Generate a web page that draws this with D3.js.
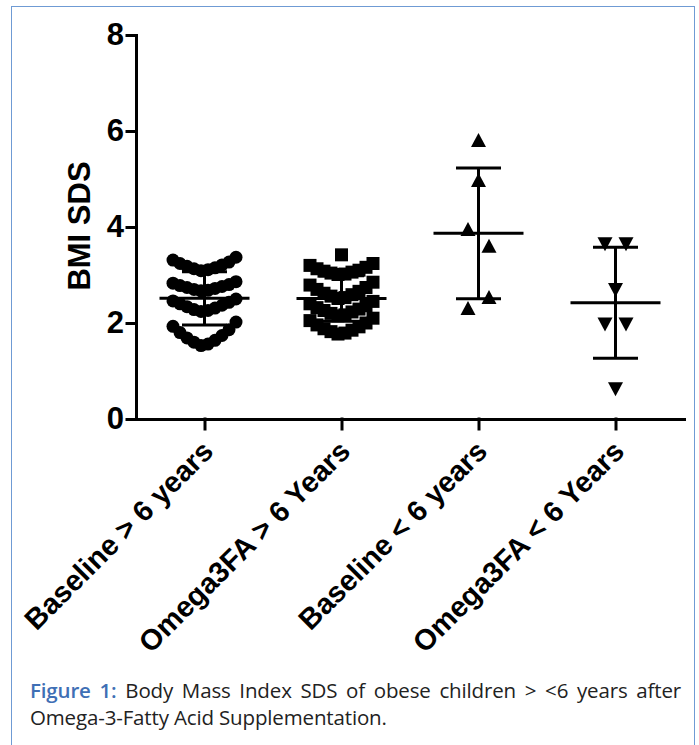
<!DOCTYPE html>
<html>
<head>
<meta charset="utf-8">
<script src="https://cdn.jsdelivr.net/npm/d3@7"></script>
<style>
body { margin: 0; background: #fff; }
#frame { position: absolute; left: 11px; top: 6px; width: 684px; height: 760px; border: 1px solid #6f9bd4; box-sizing: border-box; }
#chart { position: absolute; left: 0; top: 0; }
.cap { position: absolute; left: 30px; width: 651px; font-family: "Open Sans", sans-serif; font-size: 20.5px; line-height: 27px; color: #222; white-space: nowrap; letter-spacing: -0.15px; }
.cap.l1 { top: 677px; text-align: justify; text-align-last: justify; white-space: normal; }
.cap.l2 { top: 704px; }
.cap b { color: #3f6fb5; font-weight: 600; }
</style>
</head>
<body>
<div id="frame"></div>
<svg id="chart" width="699" height="745"></svg>
<div class="cap l1"><b>Figure 1:</b> Body Mass Index SDS of obese children &gt; &lt;6 years after</div>
<div class="cap l2">Omega-3-Fatty Acid Supplementation.</div>
<script>
// data
const categories = ["Baseline > 6 years", "Omega3FA > 6 Years", "Baseline < 6 years", "Omega3FA < 6 Years"];
const baselineOver6 = [
	1.53, 1.56, 1.60, 1.64, 1.69, 1.74, 1.80, 1.86, 1.93, 2.02,
	2.24, 2.26, 2.28, 2.31, 2.34, 2.37, 2.40, 2.43, 2.46, 2.50,
	2.67, 2.68, 2.70, 2.72, 2.74, 2.76, 2.78, 2.80, 2.83, 2.86,
	3.09, 3.11, 3.13, 3.15, 3.18, 3.21, 3.24, 3.27, 3.31, 3.37
];
const omegaOver6 = [
	1.77, 1.79, 1.82, 1.85, 1.88, 1.92, 1.96, 2.00, 2.05, 2.10,
	2.15, 2.17, 2.20, 2.23, 2.26, 2.29, 2.32, 2.36, 2.40, 2.45,
	2.51, 2.53, 2.56, 2.59, 2.62, 2.66, 2.70, 2.74, 2.79, 2.85,
	3.01, 3.02, 3.04, 3.06, 3.08, 3.10, 3.13, 3.16, 3.20, 3.24,
	3.42
];
const baselineUnder6 = [5.81, 4.98, 3.96, 3.61, 2.31, 2.54];
const omegaUnder6 = [3.64, 3.64, 2.69, 1.97, 1.97, 0.62];
const yTicks = [0, 2, 4, 6, 8];

const series = [baselineOver6, omegaOver6, baselineUnder6, omegaUnder6];
const shapes = ["circle", "square", "up", "down"];

const svg = d3.select("#chart");
const font = "'Liberation Sans', Arial, sans-serif";

var x = d3.scalePoint()
	.domain(categories)
	.range([136, 684])
	.padding(0.5);

var y = d3.scaleLinear()
	.domain([0, 8])
	.range([419, 35]);

// scatter layout: rows of similar values, spread centre-out
const maxPerRow = 10, rowSpan = 0.5, rowWidth = 63, maxGap = 21;
function swarm(values, cx) {
	const pts = values.map((v, i) => ({ v: v, i: i }));
	const sorted = pts.slice().sort((a, b) => a.v - b.v || a.i - b.i);
	const rows = [];
	let row = null;
	sorted.forEach(p => {
		if (!row || row.length >= maxPerRow || p.v - row[0].v > rowSpan) {
			row = [];
			rows.push(row);
		}
		row.push(p);
	});
	rows.forEach(r => {
		r.sort((a, b) => a.i - b.i);
		const n = r.length;
		const s = Math.min(maxGap, rowWidth / Math.max(n - 1, 1));
		const slots = d3.range(n).map(k => (k - (n - 1) / 2) * s)
			.sort((a, b) => Math.abs(a) - Math.abs(b) || a - b);
		r.forEach((p, k) => { p.x = cx + slots[k]; });
	});
	return pts;
}

const markers = {
	circle: d3.symbol(d3.symbolCircle, Math.PI * 6.5 * 6.5)(),
	square: d3.symbol(d3.symbolSquare, 13 * 13)(),
	up: "M0,-7L7.5,7L-7.5,7Z",
	down: "M0,7L7.5,-7L-7.5,-7Z"
};

series.forEach((vals, gi) => {
	const cx = x(categories[gi]);
	const pts = swarm(vals, cx);
	svg.append("g").selectAll("path")
		.data(pts)
		.enter()
		.append("path")
		.attr("d", markers[shapes[gi]])
		.attr("transform", d => `translate(${d.x},${y(d.v)})`)
		.attr("fill", "#000");

	// mean +/- SD
	const m = d3.mean(vals), sd = d3.deviation(vals);
	const eb = svg.append("g")
		.attr("stroke", "#000")
		.attr("stroke-width", 3);
	eb.append("line")
		.attr("x1", cx - 45).attr("x2", cx + 45)
		.attr("y1", y(m)).attr("y2", y(m));
	eb.append("line")
		.attr("x1", cx).attr("x2", cx)
		.attr("y1", y(m - sd)).attr("y2", y(m + sd));
	[m - sd, m + sd].forEach(v => {
		eb.append("line")
			.attr("x1", cx - 22.5).attr("x2", cx + 22.5)
			.attr("y1", y(v)).attr("y2", y(v));
	});
});

var yAxis = svg.append("g")
	.attr("transform", "translate(136,0)")
	.call(d3.axisLeft(y).tickValues(yTicks).tickSize(9).tickSizeOuter(0).tickPadding(3));

var xAxis = svg.append("g")
	.attr("transform", "translate(0,419)")
	.call(d3.axisBottom(x).tickSize(10).tickSizeOuter(0));

svg.selectAll(".domain, .tick line")
	.attr("stroke", "#000")
	.attr("stroke-width", 3)
	.attr("stroke-linecap", "square");

yAxis.selectAll("text")
	.attr("font-family", font)
	.attr("font-weight", "bold")
	.attr("font-size", 31)
	.attr("fill", "#000");

xAxis.selectAll("text")
	.attr("x", 0)
	.attr("y", 0)
	.attr("dy", 0)
	.attr("transform", "translate(10,34) rotate(-45)")
	.attr("text-anchor", "end")
	.attr("font-family", font)
	.attr("font-weight", "bold")
	.attr("font-size", 29)
	.attr("fill", "#000");

svg.append("text")
	.attr("transform", "translate(90,226) rotate(-90)")
	.attr("text-anchor", "middle")
	.attr("font-family", font)
	.attr("font-weight", "bold")
	.attr("font-size", 31)
	.text("BMI SDS");
</script>
</body>
</html>
